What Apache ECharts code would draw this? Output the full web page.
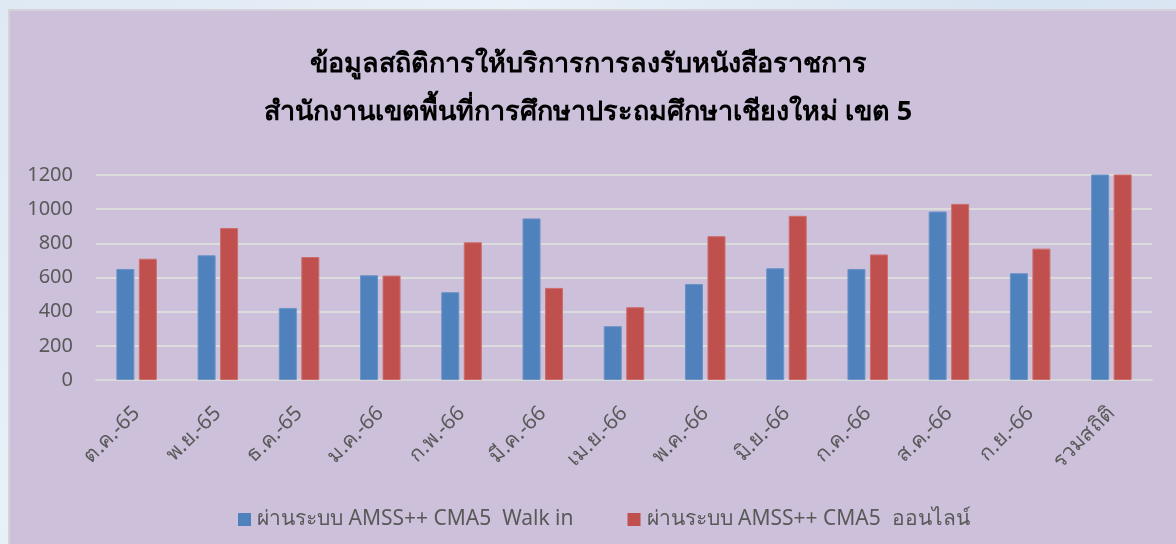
<!DOCTYPE html>
<html>
<head>
<meta charset="utf-8">
<script src="https://cdn.jsdelivr.net/npm/echarts@6/dist/echarts.min.js"></script>
<style>
  html, body { margin:0; padding:0; width:1176px; height:544px; overflow:hidden;
    background: linear-gradient(135deg, #dfe9f4 0%, #e8f0f8 30%, #d7e4f1 60%, #e4edf7 100%); }
  #frame { position:absolute; left:8px; top:9px; width:1170px; height:540px;
    background:#CCC0DA; border-left:2px solid #d6d2da; border-top:2px solid #d6d2da; }
  #chart { position:absolute; left:0; top:0; width:1176px; height:544px; }
</style>
</head>
<body>
<div id="frame"></div>
<div id="chart"></div>
<script>
const titleLines = ['ข้อมูลสถิติการให้บริการการลงรับหนังสือราชการ', 'สำนักงานเขตพื้นที่การศึกษาประถมศึกษาเชียงใหม่ เขต 5'];
const categories = ['ต.ค.-65','พ.ย.-65','ธ.ค.-65','ม.ค.-66','ก.พ.-66','มี.ค.-66','เม.ย.-66','พ.ค.-66','มิ.ย.-66','ก.ค.-66','ส.ค.-66','ก.ย.-66','รวมสถิติ'];
const seriesNames = ['ผ่านระบบ AMSS++ CMA5  Walk in', 'ผ่านระบบ AMSS++ CMA5  ออนไลน์'];
const walkIn = [650, 730, 422, 613, 514, 946, 315, 562, 654, 650, 986, 625, 7667];
const online = [710, 890, 720, 611, 806, 539, 426, 842, 961, 735, 1031, 769, 9040];
const yTicks = [0, 200, 400, 600, 800, 1000, 1200];

const FONT = '"Noto Sans", "Open Sans", sans-serif';
const chart = echarts.init(document.getElementById('chart'), null, {renderer:'canvas'});
chart.setOption({
  backgroundColor: 'transparent',
  animation: false,
  title: {
    text: titleLines.join('\n'),
    left: 'center',
    top: 35,
    textStyle: { fontFamily: FONT, fontSize: 27, fontWeight: 'bold', color: '#000', lineHeight: 48 }
  },
  legend: {
    top: 504,
    left: 233,
    itemWidth: 13, itemHeight: 13,
    itemGap: 54,
    itemStyle: { borderWidth: 0 },
    icon: 'rect',
    textStyle: { fontFamily: FONT, fontSize: 21, color: '#595959', padding: [0, 0, 0, 1] },
    data: seriesNames
  },
  grid: { left: 96, right: 24, top: 175, bottom: 164, containLabel: false },
  xAxis: {
    type: 'category',
    data: categories,
    axisLine: { show: true, lineStyle: { color: '#d9d9d9', width: 2 } },
    axisTick: { show: false },
    axisLabel: { rotate: 45, margin: 30, fontFamily: FONT, fontSize: 21, color: '#595959', interval: 0 }
  },
  yAxis: {
    type: 'value',
    min: yTicks[0], max: yTicks[yTicks.length - 1], interval: 200,
    axisLine: { show: false },
    axisTick: { show: false },
    splitLine: { lineStyle: { color: '#dcdcdc', width: 2 } },
    axisLabel: { margin: 23, fontFamily: FONT, fontSize: 20, color: '#595959', formatter: v => String(v) }
  },
  series: [
    { name: seriesNames[0], type: 'bar', data: walkIn, barWidth: 18, barGap: '25%', clip: true,
      itemStyle: { color: '#4F81BD', borderColor: '#6b93c6', borderWidth: 1 } },
    { name: seriesNames[1], type: 'bar', data: online, barWidth: 18, clip: true,
      itemStyle: { color: '#C0504D', borderColor: '#cc6d6b', borderWidth: 1 } }
  ]
});
</script>
</body>
</html>
